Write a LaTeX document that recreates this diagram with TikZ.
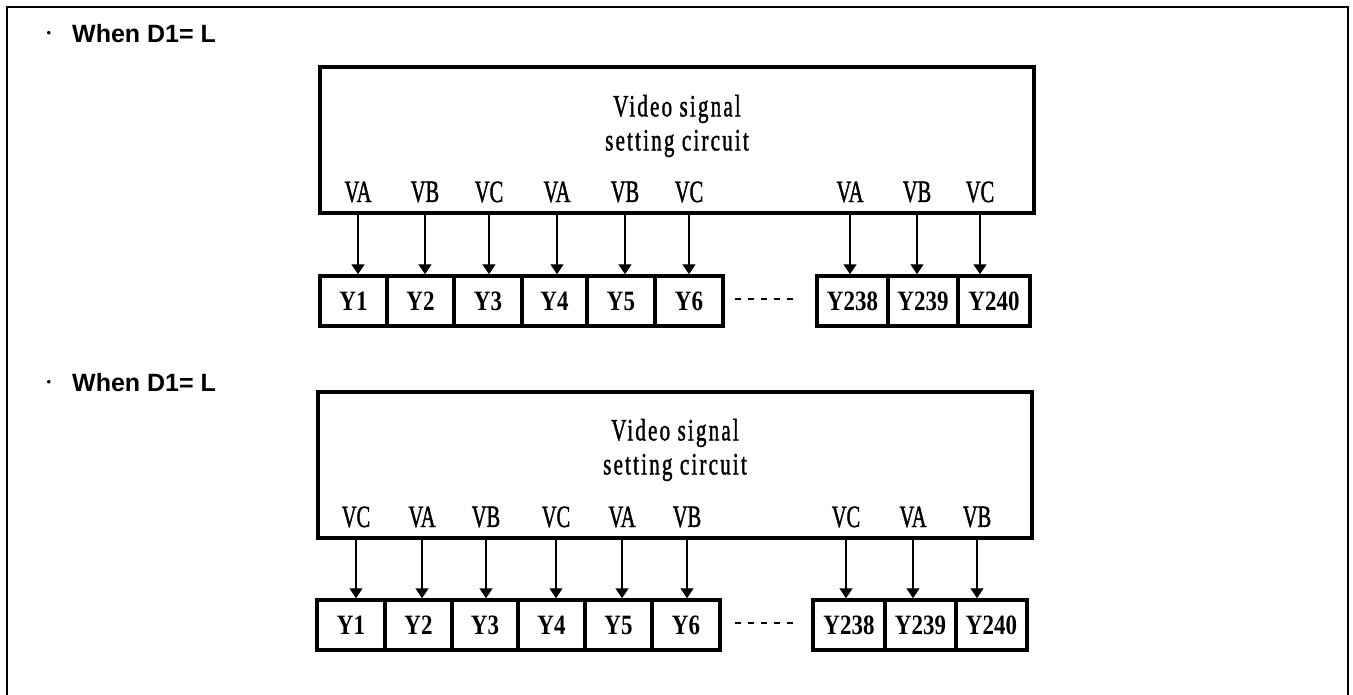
\documentclass[tikz,border=0pt]{standalone}
\usepackage{fontspec}
\usetikzlibrary{arrows.meta}
\newfontfamily\headfont{Liberation Sans}
\newfontfamily\portfont{Liberation Serif}[FakeStretch=0.66,FakeBold=1.2]
\newfontfamily\titlefont{Liberation Serif}[FakeStretch=0.68,LetterSpace=7,FakeBold=1.2]
\newfontfamily\cellfont{Liberation Serif}[FakeStretch=0.82]
\tikzset{
  frameline/.style={line width=2pt},
  circuit/.style={draw,line width=4pt,minimum width=714pt,minimum height=146pt,inner sep=0pt},
  cellbox/.style={draw,line width=3.5pt,minimum height=50pt,inner sep=0pt,
    font=\cellfont\bfseries\fontsize{28}{30}\selectfont},
  portlbl/.style={inner sep=0pt,font=\portfont\fontsize{31}{33}\selectfont},
  titletext/.style={inner sep=0pt,align=center,font=\titlefont\fontsize{31}{34}\selectfont},
  heading/.style={inner sep=0pt,anchor=west,font=\headfont\bfseries\fontsize{25}{27}\selectfont},
  bulletmark/.style={inner sep=0pt,font=\headfont\fontsize{13}{13}\selectfont},
  feed/.style={line width=1.4pt,-{Triangle[length=10pt,width=13pt]}},
  ellipsisline/.style={line width=1.6pt,dash pattern=on 6pt off 7pt}
}
\begin{document}
\begin{tikzpicture}[x=1pt,y=-1pt]
\useasboundingbox (0,0) rectangle (1353,694);
% outer frame, open at the bottom edge
\draw[frameline] (7,700) -- (7,7) -- (1348,7) -- (1348,700);

% ---------- first case ----------
\node[bulletmark] (b1) at (49,34) {•};
\node[heading] (h1) at (72,34) {When D1= L};
\node[circuit] (box1) at (677,140) {};
\node[titletext] (t1) at (677,126) {Video signal\\setting circuit};
\foreach \i/\x/\s in {1/358/VA,2/425/VB,3/489/VC,4/557/VA,5/625/VB,6/689/VC,7/850/VA,8/917/VB,9/980/VC}
  \node[portlbl] (p1-\i) at (\x,192) {\s};
\foreach \i/\a/\b/\t in {1/320/387/Y1,2/387/454/Y2,3/454/522/Y3,4/522/587/Y4,5/587/655/Y5,6/655/723/Y6,7/817/888/Y238,8/888/958/Y239,9/958/1030/Y240}
  \node[cellbox,minimum width={\b-\a}] (c1-\i) at ({(\a+\b)/2},301) {\t};
\foreach \i in {1,...,9}
  \draw[feed] (p1-\i |- box1.south) -- (p1-\i |- c1-\i.north);
\coordinate (d1a) at (735,299);
\coordinate (d1b) at (794,299);
\draw[ellipsisline] (d1a) -- (d1b);

% ---------- second case ----------
\node[bulletmark] (b2) at (49,383) {•};
\node[heading] (h2) at (72,383) {When D1= L};
\node[circuit] (box2) at (675,464.5) {};
\node[titletext] (t2) at (675,450) {Video signal\\setting circuit};
\foreach \i/\x/\s in {1/356/VC,2/422/VA,3/486/VB,4/556/VC,5/622/VA,6/687/VB,7/846/VC,8/913/VA,9/977/VB}
  \node[portlbl] (p2-\i) at (\x,517) {\s};
\foreach \i/\a/\b/\t in {1/317/385/Y1,2/385/452/Y2,3/452/518/Y3,4/518/585/Y4,5/585/652/Y5,6/652/720/Y6,7/813/885/Y238,8/885/956/Y239,9/956/1027/Y240}
  \node[cellbox,minimum width={\b-\a}] (c2-\i) at ({(\a+\b)/2},625) {\t};
\foreach \i in {1,...,9}
  \draw[feed] (p2-\i |- box2.south) -- (p2-\i |- c2-\i.north);
\coordinate (d2a) at (735,623);
\coordinate (d2b) at (794,623);
\draw[ellipsisline] (d2a) -- (d2b);
\end{tikzpicture}
\end{document}
